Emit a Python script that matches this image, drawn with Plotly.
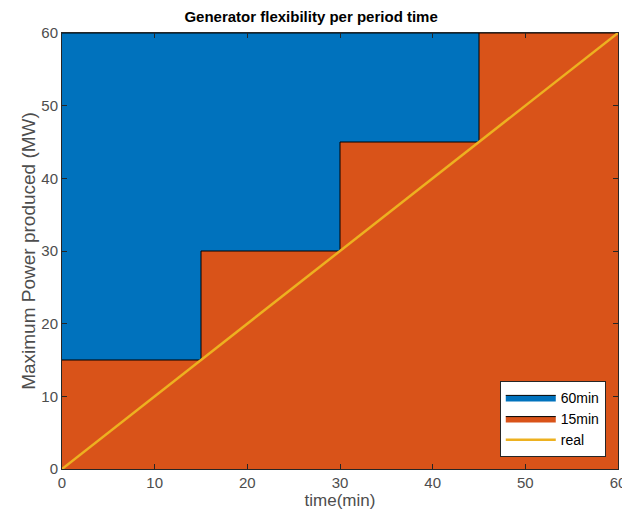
import plotly.graph_objects as go

time_edges = [0, 15, 30, 45, 60]
power_15min = [15, 30, 45, 60, 60]
time_60min = [0, 60]
power_60min = [60, 60]
time_real = [0, 60]
power_real = [0, 60]

FONT = "Liberation Sans, Arial"

fig = go.Figure()
fig.add_trace(go.Scatter(x=time_60min, y=power_60min, mode="lines", fill="tozeroy",
                         fillcolor="#0072BD", line=dict(color="black", width=1),
                         name="60min"))
fig.add_trace(go.Scatter(x=time_edges, y=power_15min, mode="lines", fill="tozeroy",
                         line_shape="hv", fillcolor="#D95319",
                         line=dict(color="black", width=1), name="15min"))
fig.add_trace(go.Scatter(x=time_real, y=power_real, mode="lines",
                         line=dict(color="#EDB120", width=2.5), name="real"))

axis_common = dict(showgrid=False, zeroline=False, ticks="inside", ticklen=5,
                   tickcolor="#262626", showline=True, linecolor="#262626",
                   linewidth=1, mirror="ticks", range=[0, 60], dtick=10,
                   ticklabeloverflow="allow",
                   tickfont=dict(size=15, color="#4d4d4d", family=FONT))

fig.update_layout(
    width=626, height=525,
    margin=dict(l=62, r=0, t=33, b=56),
    paper_bgcolor="white", plot_bgcolor="white",
    title=dict(text="<b>Generator flexibility per period time</b>", x=0.497, xanchor="center",
               y=0.969, yanchor="middle",
               font=dict(size=15, color="black", family=FONT)),
    xaxis=dict(axis_common, title=dict(text="time(min)", standoff=3,
               font=dict(size=17, color="#4d4d4d", family=FONT))),
    yaxis=dict(axis_common, title=dict(text="Maximum Power produced (MW)", standoff=0,
               font=dict(size=19, color="#4d4d4d", family=FONT))),
    legend=dict(x=0.978, y=0.028, xanchor="right", yanchor="bottom",
                bgcolor="white", bordercolor="#262626", borderwidth=1,
                font=dict(size=14, color="black", family=FONT),
                tracegroupgap=0, itemwidth=50),
    showlegend=True,
)

fig.write_html("out.html")
